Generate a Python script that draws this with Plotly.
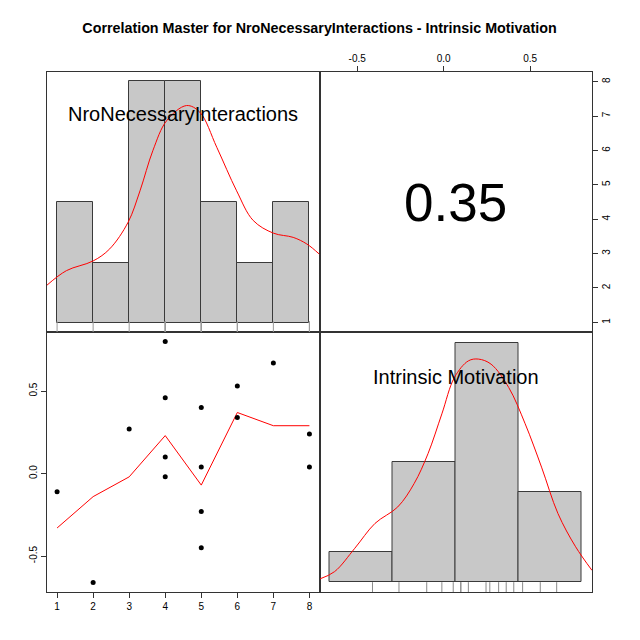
import plotly.graph_objects as go

# NroNecessaryInteractions (x) vs Intrinsic Motivation (y), 16 observations
nni = [1, 2, 3, 4, 4, 4, 4, 5, 5, 5, 5, 6, 6, 7, 8, 8]
im = [-0.11, -0.66, 0.27, 0.80, 0.46, 0.10, -0.02, 0.40, 0.04, -0.23, -0.45, 0.53, 0.34, 0.67, 0.24, 0.04]

# smoothed fit in the scatter panel
fit_x = [1, 2, 3, 4, 5, 6, 7, 8]
fit_y = [-0.33, -0.14, -0.02, 0.23, -0.07, 0.37, 0.29, 0.29]

# histograms on the diagonal
nni_centers = [1.5, 2.5, 3.5, 4.5, 5.5, 6.5, 7.5]
nni_counts = [2, 1, 4, 4, 2, 1, 2]
im_centers = [-0.75, -0.25, 0.25, 0.75]
im_counts = [1, 4, 8, 3]

# density curves (in count units)
nni_dens_x = [0.72, 1.26, 2.0, 2.46, 2.97, 3.30, 3.66, 4.04, 4.59, 4.96, 5.43, 5.98, 6.44, 7.0, 7.55, 7.93, 8.28]
nni_dens_y = [0.63, 0.87, 1.03, 1.23, 1.67, 2.19, 2.86, 3.35, 3.60, 3.49, 2.91, 2.19, 1.70, 1.49, 1.42, 1.31, 1.14]
im_dens_x = [-1.08, -0.96, -0.80, -0.64, -0.46, -0.33, -0.22, -0.11, -0.01, 0.10, 0.18, 0.28, 0.42, 0.55, 0.68, 0.81, 0.95, 1.08]
im_dens_y = [0.10, 0.35, 1.13, 1.96, 2.51, 3.29, 4.29, 5.62, 6.84, 7.39, 7.45, 7.28, 6.50, 5.29, 3.84, 2.29, 1.18, 0.39]

corr_text = "0.35"
names = ["NroNecessaryInteractions", "Intrinsic Motivation"]
title = "Correlation Master for NroNecessaryInteractions - Intrinsic Motivation"

FONT = "Liberation Sans, Arial, Helvetica, sans-serif"
BAR_FILL = "#c8c8c8"
BAR_LINE = "#3a3a3a"

fig = go.Figure()

# top-left: NNI histogram
fig.add_trace(go.Bar(x=nni_centers, y=nni_counts, width=1, xaxis="x3", yaxis="y3",
                     marker=dict(color=BAR_FILL, line=dict(color=BAR_LINE, width=1))))
fig.add_trace(go.Scatter(x=nni_dens_x, y=nni_dens_y, mode="lines", line_shape="spline",
                         line=dict(color="red", width=1), xaxis="x3", yaxis="y3"))
fig.add_trace(go.Scatter(x=nni, y=[-0.072] * len(nni), mode="markers", xaxis="x3", yaxis="y3",
                         marker=dict(symbol="line-ns", size=9, line=dict(color="#9a9a9a", width=1))))

# bottom-right: IM histogram
fig.add_trace(go.Bar(x=im_centers, y=im_counts, width=0.5, xaxis="x4", yaxis="y4",
                     marker=dict(color=BAR_FILL, line=dict(color=BAR_LINE, width=1))))
fig.add_trace(go.Scatter(x=im_dens_x, y=im_dens_y, mode="lines", line_shape="spline",
                         line=dict(color="red", width=1), xaxis="x4", yaxis="y4"))
fig.add_trace(go.Scatter(x=im, y=[-0.19] * len(im), mode="markers", xaxis="x4", yaxis="y4",
                         marker=dict(symbol="line-ns", size=8, line=dict(color="#8a8a8a", width=1))))

# bottom-left: scatter with fit
fig.add_trace(go.Scatter(x=fit_x, y=fit_y, mode="lines", line=dict(color="red", width=1),
                         xaxis="x", yaxis="y"))
fig.add_trace(go.Scatter(x=nni, y=im, mode="markers", marker=dict(color="black", size=5),
                         xaxis="x", yaxis="y"))

# top-right: empty panel carrying the correlation and the outer axes
fig.add_trace(go.Scatter(x=[0], y=[4.5], mode="markers", marker=dict(opacity=0),
                         xaxis="x2", yaxis="y2", hoverinfo="skip"))

frame = dict(showline=True, mirror=True, linecolor="#333", linewidth=1,
             showgrid=False, zeroline=False)
tickstyle = dict(ticks="outside", ticklen=5, tickcolor="#333",
                 tickfont=dict(size=10, color="black", family=FONT))

# the page body adds an 8px offset, so margins are shifted to compensate
fig.update_layout(
    width=640, height=640,
    margin=dict(l=39, r=56, t=64, b=56),
    paper_bgcolor="white", plot_bgcolor="white",
    showlegend=False, bargap=0,
    font=dict(family=FONT, color="black"),
    title=dict(text="<b>" + title + "</b>", xref="paper", x=0.5, xanchor="center",
               y=0.969, yanchor="middle",
               font=dict(size=14.3, family=FONT, color="black")),
    xaxis=dict(domain=[0, 0.5], range=[0.72, 8.28], tickvals=[1, 2, 3, 4, 5, 6, 7, 8],
               anchor="y", **frame, **tickstyle),
    yaxis=dict(domain=[0, 0.5], range=[-0.718, 0.858], tickvals=[-0.5, 0, 0.5],
               ticktext=["-0.5", "0.0", "0.5"], tickangle=-90,
               anchor="x", **frame, **tickstyle),
    xaxis2=dict(domain=[0.5, 1], range=[-0.718, 0.858], tickvals=[-0.5, 0, 0.5],
                ticktext=["-0.5", "0.0", "0.5"], side="top",
                anchor="y2", **frame, **tickstyle),
    yaxis2=dict(domain=[0.5, 1], range=[0.72, 8.28], tickvals=[1, 2, 3, 4, 5, 6, 7, 8],
                side="right", tickangle=-90,
                anchor="x2", **frame, **tickstyle),
    xaxis3=dict(domain=[0, 0.5], range=[0.72, 8.28], showticklabels=False, ticks="",
                anchor="y3", **frame),
    yaxis3=dict(domain=[0.5, 1], range=[-0.145, 4.155], showticklabels=False, ticks="",
                anchor="x3", **frame),
    xaxis4=dict(domain=[0.5, 1], range=[-1.08, 1.08], showticklabels=False, ticks="",
                anchor="y4", **frame),
    yaxis4=dict(domain=[0, 0.5], range=[-0.332, 8.355], showticklabels=False, ticks="",
                anchor="x4", **frame),
)

fig.add_annotation(text=names[0], xref="x3 domain", yref="y3 domain", x=0.5, y=0.838,
                   xanchor="center", yanchor="middle",
                   showarrow=False, font=dict(size=20, family=FONT, color="black"))
fig.add_annotation(text=names[1], xref="x4 domain", yref="y4 domain", x=0.5, y=0.828,
                   xanchor="center", yanchor="middle",
                   showarrow=False, font=dict(size=20, family=FONT, color="black"))
fig.add_annotation(text=corr_text, xref="x2 domain", yref="y2 domain", x=0.5, y=0.5,
                   xanchor="center", yanchor="middle",
                   showarrow=False, font=dict(size=53, family=FONT, color="black"))

fig.write_html("out.html")
